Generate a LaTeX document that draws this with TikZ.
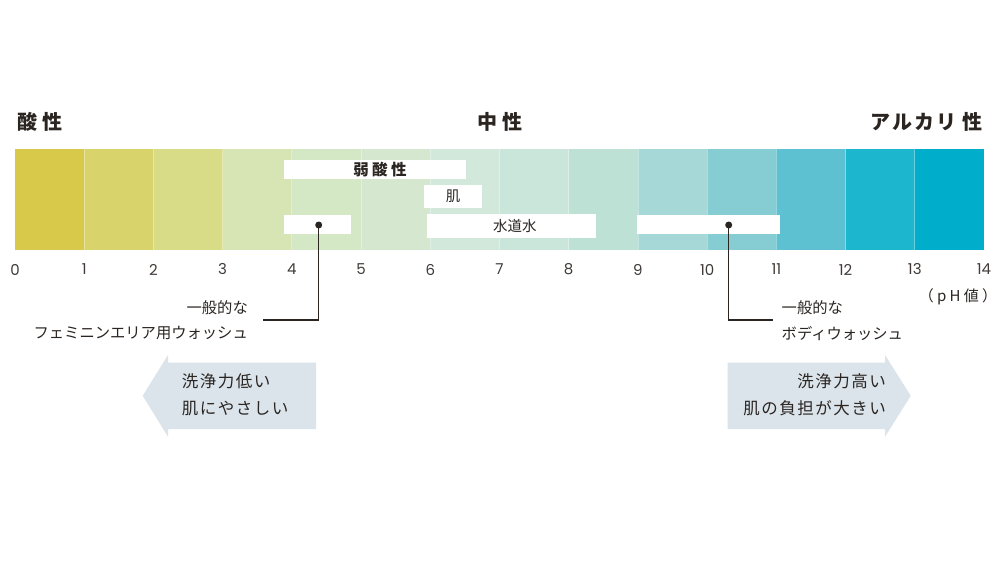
\documentclass[tikz,border=0pt]{standalone}
\usepackage{fontspec}
\setmainfont{Noto Sans CJK JP}
\newfontfamily\jpls[LetterSpace=9]{Noto Sans CJK JP}
\newfontfamily\jplw[LetterSpace=22]{Noto Sans CJK JP}
\newfontfamily\numfont{Poppins}
\definecolor{ink}{HTML}{2B2522}
\definecolor{c0}{HTML}{D8C94B}
\definecolor{c1}{HTML}{D8D46B}
\definecolor{c2}{HTML}{D8DC86}
\definecolor{c3}{HTML}{D7E5B4}
\definecolor{c4}{HTML}{D5E8C6}
\definecolor{c5}{HTML}{D5E8CF}
\definecolor{c6}{HTML}{D2E8DA}
\definecolor{c7}{HTML}{CAE6DA}
\definecolor{c8}{HTML}{BDE1D5}
\definecolor{c9}{HTML}{A5D8D6}
\definecolor{c10}{HTML}{85CCD3}
\definecolor{c11}{HTML}{5EC1D1}
\definecolor{c12}{HTML}{1CB6CE}
\definecolor{c13}{HTML}{00ADCB}
\definecolor{arrowbg}{HTML}{DAE4EA}
\begin{document}
\begin{tikzpicture}[x=1pt,y=-1pt,
  title/.style={font=\fontsize{20}{24}\selectfont\bfseries, text=ink, inner sep=0pt},
  tick/.style={font=\fontsize{15}{18}\selectfont\numfont, text=ink!90, inner sep=0pt},
  wbox/.style={fill=white, inner sep=0pt, text=ink, font=\fontsize{14.5}{17}\selectfont},
  lbl/.style={font=\fontsize{15.3}{18}\selectfont, text=ink, inner sep=0pt},
  arrtxt/.style={font=\fontsize{16.5}{19}\selectfont\jpls, text=ink, inner sep=0pt},
  dotnode/.style={circle, fill=ink, inner sep=0pt, minimum size=7pt},
  leader/.style={draw=ink, line width=1.4pt},
  arrowshape/.style={fill=arrowbg}
]
\fill[white] (0,0) rectangle (1000,572);
\useasboundingbox (0,0) rectangle (1000,572);
% colour bar
\foreach \i in {0,...,13}{
  \fill[c\i] ({15+69.214*\i},149) rectangle ({15+69.214*(\i+1)},250);
}
\foreach \i in {1,...,13}{
  \draw[white, opacity=0.35, line width=0.8pt] ({15+69.214*\i},149) -- ({15+69.214*\i},250);
}
% titles
\node[title, anchor=west] (acid) at (17,122) {酸\hspace{5pt}性};
\node[title] (neutral) at (499.5,122) {中\hspace{5pt}性};
\node[title, anchor=east] (alk) at (983,122) {ア\hspace{2pt}ル\hspace{2pt}カ\hspace{2pt}リ\hspace{6pt}性};
% tick labels
\foreach \i in {0,...,14}{
  \node[tick] (t\i) at ({15+69.214*\i},269.5) {\i};
}
\node[inner sep=0pt, text=ink, font=\fontsize{15}{18}\selectfont\jplw] (phunit) at (958,297) {（pH値）};
% white boxes
\node[wbox, minimum width=181.7pt, minimum height=19.3pt] (weak) at (375.15,169.8) {};
\node[text=ink, inner sep=0pt, font=\fontsize{15.5}{18}\selectfont\bfseries\jplw] (weaktxt) at (380,170) {弱酸性};
\node[wbox, minimum width=57.4pt, minimum height=23.3pt] (skin) at (453,196.7) {肌};
\node[wbox, minimum width=66.7pt, minimum height=19pt] (fem) at (317.65,224.5) {};
\node[wbox, minimum width=168.7pt, minimum height=23.3pt] (tap) at (511.8,226) {\hspace{6pt}水道水};
\node[wbox, minimum width=143pt, minimum height=19pt] (body) at (708.5,224.5) {};
% dots and leaders
\node[dotnode] (dL) at (318.7,225) {};
\node[dotnode] (dR) at (728.7,225) {};
\coordinate (eL) at (263,320);
\coordinate (eR) at (773,320);
\draw[leader] (dL.center) |- (eL);
\draw[leader] (dR.center) |- (eR);
% leader labels
\node[lbl, anchor=east] (femA) at (248,308) {一般的な};
\node[lbl, anchor=east] (femB) at (248,333.5) {フェミニンエリア用ウォッシュ};
\node[lbl, anchor=west] (bodyA) at (781.5,308) {一般的な};
\node[lbl, anchor=west] (bodyB) at (781.5,333.5) {ボディウォッシュ};
% arrows
\fill[arrowshape] (316,362.7) -- (168,362.7) -- (168,355) -- (142.7,395.8) -- (168,436.7) -- (168,429) -- (316,429) -- cycle;
\fill[arrowshape] (727.7,362.7) -- (885,362.7) -- (885,355) -- (910.7,395.8) -- (885,436.7) -- (885,429) -- (727.7,429) -- cycle;
\node[arrtxt, anchor=west] (lowA) at (181.7,381.7) {洗浄力低い};
\node[arrtxt, anchor=west] (lowB) at (181.7,408.5) {肌にやさしい};
\node[arrtxt, anchor=east] (highA) at (886,381.7) {洗浄力高い};
\node[arrtxt, anchor=east] (highB) at (886,408.5) {肌の負担が大きい};
\end{tikzpicture}
\end{document}
